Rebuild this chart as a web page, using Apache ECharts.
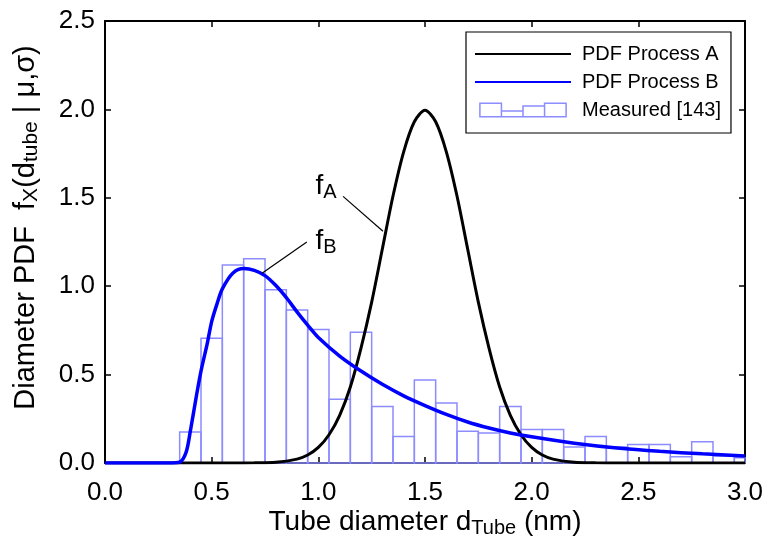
<!DOCTYPE html>
<html>
<head>
<meta charset="utf-8">
<script src="https://cdn.jsdelivr.net/npm/echarts@6/dist/echarts.min.js"></script>
<style>
html, body { margin: 0; padding: 0; background: #fff; }
#main { width: 764px; height: 538px; }
</style>
</head>
<body>
<div id="main"></div>
<script>
// measured histogram: bin centres (nm) and density
var binCenters = [0.4, 0.5, 0.6, 0.7, 0.8, 0.9, 1.0, 1.1, 1.2, 1.3, 1.4, 1.5, 1.6, 1.7, 1.8, 1.9, 2.0, 2.1, 2.2, 2.3, 2.4, 2.5, 2.6, 2.7, 2.8, 2.9, 3.0];
var binHeights = [0.175, 0.705, 1.12, 1.155, 0.98, 0.865, 0.755, 0.36, 0.74, 0.32, 0.15, 0.47, 0.34, 0.18, 0.17, 0.32, 0.19, 0.19, 0.09, 0.15, 0.09, 0.105, 0.105, 0.035, 0.12, 0.04, 0.03];
var binWidth = 0.1;

// PDF process A
var xA = [0, 0.6, 0.7, 0.8, 0.9, 0.95, 1.0, 1.05, 1.1, 1.15, 1.2, 1.25, 1.3, 1.35, 1.4, 1.45, 1.5, 1.55, 1.6, 1.65, 1.7, 1.75, 1.8, 1.85, 1.9, 1.95, 2.0, 2.05, 2.1, 2.2, 2.3, 2.4, 3.0];
var yA = [0, 0, 0.001, 0.004, 0.022, 0.045, 0.088, 0.16, 0.27, 0.43, 0.65, 0.91, 1.21, 1.51, 1.76, 1.93, 1.995, 1.93, 1.76, 1.51, 1.21, 0.91, 0.65, 0.43, 0.27, 0.16, 0.088, 0.045, 0.022, 0.004, 0.001, 0, 0];

// PDF process B
var xB = [0, 0.3, 0.35, 0.38, 0.4, 0.43, 0.45, 0.48, 0.5, 0.525, 0.55, 0.6, 0.65, 0.7, 0.75, 0.8, 0.85, 0.9, 0.95, 1.0, 1.1, 1.2, 1.3, 1.4, 1.5, 1.6, 1.7, 1.8, 1.9, 2.0, 2.2, 2.4, 2.6, 2.8, 3.0];
var yB = [0, 0, 0.005, 0.06, 0.18, 0.39, 0.52, 0.68, 0.80, 0.90, 0.985, 1.075, 1.10, 1.09, 1.06, 1.005, 0.935, 0.855, 0.78, 0.71, 0.605, 0.52, 0.445, 0.38, 0.325, 0.275, 0.232, 0.198, 0.17, 0.148, 0.112, 0.085, 0.066, 0.052, 0.04];

var FONT = "'Liberation Sans', Arial, sans-serif";
var histColor = '#8c8cff';

function zip(xs, ys) {
    var out = [];
    for (var i = 0; i < xs.length; i++) out.push([xs[i], ys[i]]);
    return out;
}

// text with subscripts (f_A, d_Tube ...)
function subRich(big, small) {
    return {
        n: { fontSize: big, fontFamily: FONT, color: '#000', lineHeight: big + 2, verticalAlign: 'top' },
        s: { fontSize: small, fontFamily: FONT, color: '#000', lineHeight: small, verticalAlign: 'bottom', padding: [Math.round(big * 0.53), 0, 0, 0] }
    };
}

var myChart = echarts.init(document.getElementById('main'), null, { renderer: 'canvas' });

// top / right frame with inward ticks
function frameAxis(pos, maxVal) {
    return {
        type: 'value',
        position: pos,
        min: 0,
        max: maxVal,
        interval: 0.5,
        axisLine: { show: true, onZero: false, lineStyle: { color: '#000', width: 2 } },
        axisTick: { show: true, inside: true, length: 6, lineStyle: { color: '#000', width: 1.5 } },
        axisLabel: { show: false },
        splitLine: { show: false }
    };
}

var option = {
    animation: false,
    backgroundColor: '#fff',
    grid: { left: 105, right: 19, top: 21, bottom: 75, outerBoundsMode: 'none', containLabel: false },
    legend: {
        orient: 'vertical',
        left: 466,
        top: 32,
        padding: [12, 10, 13, 8],
        itemWidth: 96,
        itemHeight: 14,
        itemGap: 8,
        borderColor: '#000',
        borderWidth: 1.2,
        backgroundColor: '#fff',
        textStyle: { fontSize: 20, fontFamily: FONT, color: '#000', lineHeight: 19, padding: [0, 0, 0, 6] },
        data: [
            { name: 'PDF Process A', itemStyle: { opacity: 0 } },
            { name: 'PDF Process B', itemStyle: { opacity: 0 } },
            {
                name: 'Measured [143]',
                icon: 'path://M-5,0M0,0H22V14H0Z M22,8H44V14H22Z M44,3H66V14H44Z M66,0H88V14H66Z M93,14',
                itemStyle: { color: '#fff', borderColor: histColor, borderWidth: 1.5 }
            }
        ]
    },
    xAxis: [
        {
            type: 'value',
            position: 'bottom',
            min: 0,
            max: 3,
            interval: 0.5,
            axisLine: { show: true, onZero: false, lineStyle: { color: '#000', width: 2 } },
            axisTick: { show: true, inside: true, length: 6, lineStyle: { color: '#000', width: 1.5 } },
            axisLabel: {
                fontSize: 26, fontFamily: FONT, color: '#000', margin: 17,
                formatter: function (v) { return v.toFixed(1); }
            },
            splitLine: { show: false },
            name: '{n|Tube diameter d}{s|Tube}{n| (nm)}',
            nameLocation: 'middle',
            nameGap: 45,
            nameMoveOverlap: false,
            nameTextStyle: { rich: subRich(28, 20) }
        },
        frameAxis('top', 3)
    ],
    yAxis: [
        {
            type: 'value',
            position: 'left',
            min: 0,
            max: 2.5,
            interval: 0.5,
            axisLine: { show: true, onZero: false, lineStyle: { color: '#000', width: 2 } },
            axisTick: { show: true, inside: true, length: 6, lineStyle: { color: '#000', width: 1.5 } },
            axisLabel: {
                fontSize: 26, fontFamily: FONT, color: '#000', margin: 10,
                formatter: function (v) { return v.toFixed(1); }
            },
            splitLine: { show: false },
            name: '{n|Diameter PDF  f}{s|X}{n|(d}{s|tube}{n| | \u03bc,\u03c3)}',
            nameLocation: 'middle',
            nameGap: 63,
            nameMoveOverlap: false,
            nameTextStyle: { rich: subRich(29, 21), padding: [0, 0, 0, 29] }
        },
        frameAxis('right', 2.5)
    ],
    series: [
        {
            name: 'Measured [143]',
            type: 'custom',
            xAxisIndex: 0,
            yAxisIndex: 0,
            encode: { x: 0, y: 1 },
            data: zip(binCenters, binHeights),
            itemStyle: { color: histColor },
            renderItem: function (params, api) {
                var c = api.value(0);
                var h = api.value(1);
                var p0 = api.coord([c - binWidth / 2, h]);
                var p1 = api.coord([c + binWidth / 2, 0]);
                var cs = params.coordSys;
                var rect = echarts.graphic.clipRectByRect(
                    { x: p0[0], y: p0[1], width: p1[0] - p0[0], height: p1[1] - p0[1] },
                    { x: cs.x, y: cs.y, width: cs.width, height: cs.height }
                );
                if (!rect) return null;
                return {
                    type: 'rect',
                    shape: rect,
                    style: { fill: 'none', stroke: histColor, lineWidth: 1.5 }
                };
            },
            z: 2
        },
        {
            name: 'PDF Process A',
            type: 'line',
            data: zip(xA, yA),
            smooth: 0.3,
            symbol: 'none',
            lineStyle: { color: '#000', width: 3 },
            itemStyle: { color: '#000' },
            z: 3,
            markLine: {
                silent: true,
                symbol: ['none', 'none'],
                lineStyle: { color: '#000', width: 1.2, type: 'solid' },
                label: { show: false },
                data: [[{ coord: [1.116, 1.508] }, { coord: [1.303, 1.311] }]]
            },
            markPoint: {
                silent: true,
                symbol: 'circle',
                symbolSize: 0,
                label: { show: true, formatter: '{n|f}{s|A}', rich: subRich(28, 20) },
                data: [{ coord: [1.036, 1.56] }]
            }
        },
        {
            name: 'PDF Process B',
            type: 'line',
            data: zip(xB, yB),
            smooth: 0.3,
            symbol: 'none',
            lineStyle: { color: '#0000ff', width: 3.5 },
            itemStyle: { color: '#0000ff' },
            z: 4,
            markLine: {
                silent: true,
                symbol: ['none', 'none'],
                lineStyle: { color: '#000', width: 1.2, type: 'solid' },
                label: { show: false },
                data: [[{ coord: [0.946, 1.25] }, { coord: [0.736, 1.073] }]]
            },
            markPoint: {
                silent: true,
                symbol: 'circle',
                symbolSize: 0,
                label: { show: true, formatter: '{n|f}{s|B}', rich: subRich(28, 20) },
                data: [{ coord: [1.036, 1.25] }]
            }
        }
    ]
};

myChart.setOption(option);
</script>
</body>
</html>
